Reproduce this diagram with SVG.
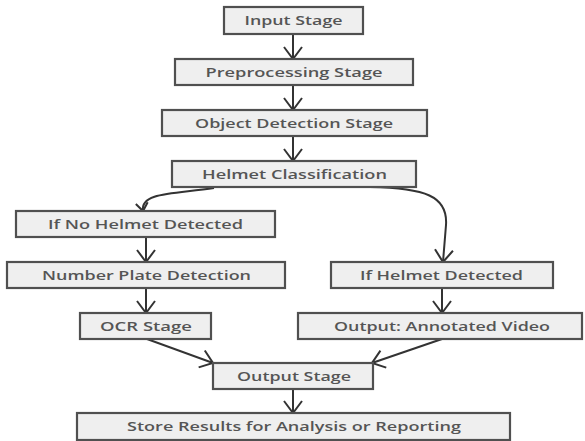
<svg xmlns="http://www.w3.org/2000/svg" width="585" height="441" viewBox="0 0 585 441">
<style>
.box{fill:#efefef;stroke:#505050;stroke-width:2.2}
.lbl{font-family:"Open Sans","DejaVu Sans",sans-serif;font-weight:600;font-size:13px;fill:#555;text-anchor:middle}
.edge{fill:none;stroke:#333;stroke-width:2}
</style>
<defs>
<marker id="ah" markerUnits="userSpaceOnUse" viewBox="-1 -1 14 20" refX="12" refY="9" markerWidth="14" markerHeight="20" orient="auto">
<path d="M0,0 L12,9 L0,18" fill="none" stroke="#333" stroke-width="2"/>
</marker>
<marker id="ahs" markerUnits="userSpaceOnUse" viewBox="-1 -1 10 14" refX="8" refY="6" markerWidth="10" markerHeight="14" orient="auto">
<path d="M0,0 L8,6 L0,12" fill="none" stroke="#333" stroke-width="2"/>
</marker>
</defs>
<rect width="585" height="441" fill="#fff"/>
<g id="connectors">
<path class="edge" d="M293,34 L293,59" marker-end="url(#ah)"/>
<path class="edge" d="M293,85 L293,110" marker-end="url(#ah)"/>
<path class="edge" d="M293,136 L293,161" marker-end="url(#ah)"/>
<path class="edge" d="M214,188 C175,194 140,192 143,211" marker-end="url(#ahs)"/>
<path class="edge" d="M370,187 C425,188 448,196 446,225 L443,262" marker-end="url(#ah)"/>
<path class="edge" d="M146,237 L146,262" marker-end="url(#ah)"/>
<path class="edge" d="M146,288 L146,313" marker-end="url(#ah)"/>
<path class="edge" d="M442,288 L442,313" marker-end="url(#ah)"/>
<path class="edge" d="M147,339 L213,363" marker-end="url(#ah)"/>
<path class="edge" d="M442,339 L372,363" marker-end="url(#ah)"/>
<path class="edge" d="M293,389 L293,413" marker-end="url(#ah)"/>
</g>
<g id="input"><rect class="box" x="224" y="7" width="139" height="27"/><text class="lbl" x="293.5" y="25" textLength="98" lengthAdjust="spacingAndGlyphs">Input Stage</text></g>
<g id="preprocessing"><rect class="box" x="175" y="59" width="238" height="26"/><text class="lbl" x="294" y="77" textLength="177" lengthAdjust="spacingAndGlyphs">Preprocessing Stage</text></g>
<g id="object-detection"><rect class="box" x="162" y="110" width="265" height="26"/><text class="lbl" x="294" y="128" textLength="198" lengthAdjust="spacingAndGlyphs">Object Detection Stage</text></g>
<g id="helmet-classification"><rect class="box" x="172" y="161" width="244" height="26"/><text class="lbl" x="294.5" y="179" textLength="185" lengthAdjust="spacingAndGlyphs">Helmet Classification</text></g>
<g id="no-helmet"><rect class="box" x="16" y="211" width="259" height="26"/><text class="lbl" x="145.5" y="229" textLength="195" lengthAdjust="spacingAndGlyphs">If No Helmet Detected</text></g>
<g id="number-plate"><rect class="box" x="7" y="262" width="278" height="26"/><text class="lbl" x="146.5" y="280" textLength="209" lengthAdjust="spacingAndGlyphs">Number Plate Detection</text></g>
<g id="helmet-detected"><rect class="box" x="331" y="262" width="222" height="26"/><text class="lbl" x="441.5" y="280" textLength="163" lengthAdjust="spacingAndGlyphs">If Helmet Detected</text></g>
<g id="ocr"><rect class="box" x="80" y="313" width="131" height="26"/><text class="lbl" x="146" y="331" textLength="92" lengthAdjust="spacingAndGlyphs">OCR Stage</text></g>
<g id="annotated-video"><rect class="box" x="298" y="313" width="284" height="26"/><text class="lbl" x="442" y="331" textLength="216" lengthAdjust="spacingAndGlyphs">Output: Annotated Video</text></g>
<g id="output-stage"><rect class="box" x="213" y="363" width="160" height="26"/><text class="lbl" x="294" y="381" textLength="114" lengthAdjust="spacingAndGlyphs">Output Stage</text></g>
<g id="store"><rect class="box" x="77" y="413" width="433" height="27"/><text class="lbl" x="294" y="431" textLength="334" lengthAdjust="spacingAndGlyphs">Store Results for Analysis or Reporting</text></g>
</svg>
